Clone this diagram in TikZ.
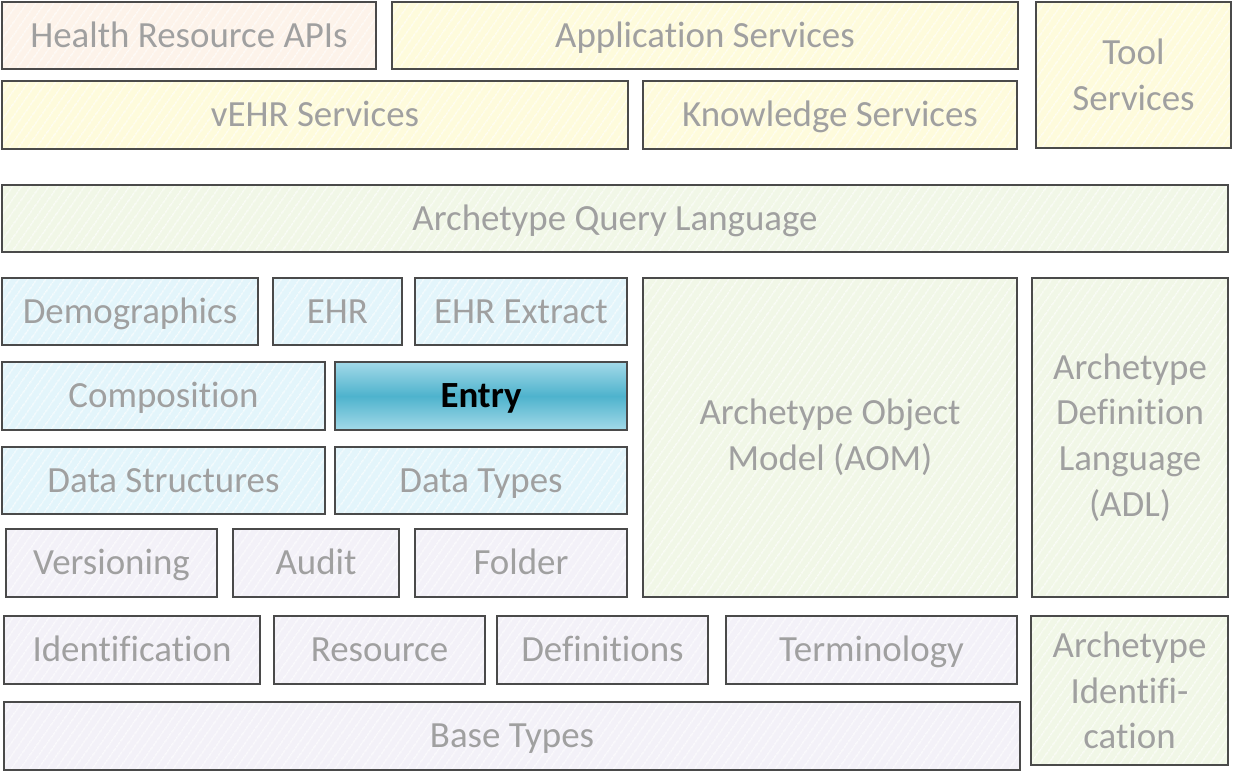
\documentclass[tikz,border=0pt]{standalone}
\usepackage{fontspec}
\setmainfont[Ligatures={NoCommon}]{Carlito}
\usetikzlibrary{patterns.meta}

\definecolor{peach}{HTML}{FDF3EA}
\definecolor{cream}{HTML}{FEFBDC}
\definecolor{mint}{HTML}{F1F7E7}
\definecolor{sky}{HTML}{E3F5FB}
\definecolor{lilac}{HTML}{F3F1F8}
\definecolor{entrylight}{HTML}{A3D9E8}
\definecolor{entrydark}{HTML}{4EB3CD}
\definecolor{labelgrey}{HTML}{A0A0A0}
\definecolor{edgegrey}{HTML}{4A4A4A}

% one block: style, name, x1, y1, x2, y2 (pixels), text
\newcommand{\Block}[7]{%
  \node[block, #1, hatch, minimum width={(#5-#3)*0.02cm}, minimum height={(#6-#4)*0.02cm}]
    (#2) at ({(#3+#5)/2},{(#4+#6)/2}) {#7};}

\begin{document}
\begin{tikzpicture}[x=0.02cm, y=-0.02cm,
  block/.style = {draw=edgegrey, line width=0.8pt, inner sep=0pt, outer sep=0pt,
    align=center, text=labelgrey, font=\fontsize{21}{26}\selectfont,
    text height=17pt, text depth=3.5pt},
  multi/.style  = {text height=, text depth=},
  hatch/.style  = {preaction={pattern={Lines[angle=55,distance=4pt,line width=0.4pt]},
    pattern color=white}},
  api/.style    = {preaction={fill=peach}},
  service/.style= {preaction={fill=cream}},
  arch/.style   = {preaction={fill=mint}},
  rm/.style     = {preaction={fill=sky}},
  base/.style   = {preaction={fill=lilac}},
  focus/.style  = {top color=entrylight, bottom color=entrylight, middle color=entrydark,
    text=black, font=\fontsize{21}{26}\selectfont\bfseries, hatch/.style={}}]
  %\draw[help lines] (0,0) grid[step=100] (1236,777);
  \useasboundingbox (0,0) rectangle (1236,777);

  % services
  \Block{api}{hrapi}{2}{2}{376}{69}{Health Resource APIs}
  \Block{service}{appsrv}{392}{2}{1018}{69}{Application Services}
  \Block{service,multi}{toolsrv}{1036}{2}{1231}{148}{Tool\\Services}
  \Block{service}{vehr}{2}{81}{628}{149}{vEHR Services}
  \Block{service}{knowsrv}{643}{81}{1017}{149}{Knowledge Services}

  % query
  \Block{arch}{aql}{2}{185}{1228}{252}{Archetype Query Language}

  % reference model
  \Block{rm}{demog}{2}{278}{258}{345}{Demographics}
  \Block{rm}{ehr}{273}{278}{402}{345}{EHR}
  \Block{rm}{extract}{415}{278}{627}{345}{EHR Extract}
  \Block{rm}{compo}{2}{362}{325}{430}{Composition}
  \Block{focus}{entry}{335}{362}{627}{430}{Entry}
  \Block{rm}{dstruct}{2}{447}{325}{514}{Data Structures}
  \Block{rm}{dtypes}{335}{447}{627}{514}{Data Types}

  % archetypes
  \Block{arch,multi}{aom}{643}{278}{1017}{597}{Archetype Object\\Model (AOM)}
  \Block{arch,multi}{adl}{1032}{278}{1228}{597}{Archetype\\Definition\\Language\\(ADL)}
  \Block{arch,multi}{archid}{1031}{616}{1228}{765}{Archetype\\Identifi-\\cation}

  % base
  \Block{base}{version}{6}{529}{217}{597}{Versioning}
  \Block{base}{audit}{233}{529}{399}{597}{Audit}
  \Block{base}{folder}{415}{529}{627}{597}{Folder}
  \Block{base}{ident}{4}{616}{260}{684}{Identification}
  \Block{base}{resource}{274}{616}{485}{684}{Resource}
  \Block{base}{defs}{497}{616}{708}{684}{Definitions}
  \Block{base}{termin}{726}{616}{1017}{684}{Terminology}
  \Block{base}{btypes}{4}{702}{1020}{770}{Base Types}
\end{tikzpicture}
\end{document}
